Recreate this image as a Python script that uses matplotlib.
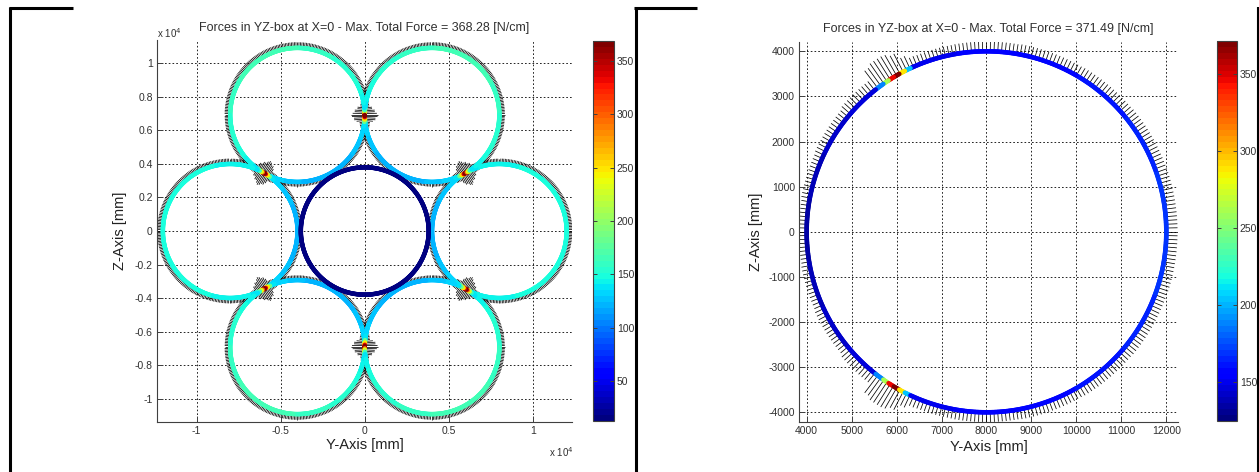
import numpy as np
import matplotlib
matplotlib.use("Agg")
import matplotlib.pyplot as plt
from matplotlib.collections import LineCollection
from matplotlib.colors import Normalize
from matplotlib.cm import ScalarMappable
from matplotlib.lines import Line2D
from matplotlib.ticker import FuncFormatter

plt.rcParams['font.family'] = ['Liberation Sans', 'DejaVu Sans']
plt.rcParams['axes.unicode_minus'] = False

# ---- left panel: seven-cylinder bundle ----
left_title = "Forces in YZ-box at X=0 - Max. Total Force = 368.28 [N/cm]"
outer_center_deg = [0, 60, 120, 180, 240, 300]
outer_kind = ['side', 'diag', 'diag', 'side', 'diag', 'diag']
outer_center_dist = 8000
outer_radius = 4000
inner_radius = 3800
# force vs |angle from outward direction| (deg)
half_deg = [0, 15, 30, 45, 60, 75, 90, 100, 110, 114, 116, 118, 119, 121, 122, 124, 126, 130, 140, 155, 170, 180]
outer_force_side = [150, 150, 149, 148, 147, 146, 144, 141, 136, 160, 230, 300, 368.28, 330, 250, 180, 140, 130, 126, 123, 121, 120]
outer_force_diag = [163, 163, 162, 160, 157, 153, 148, 143, 137, 160, 230, 300, 368.28, 330, 250, 180, 140, 130, 126, 123, 121, 120]
left_arrow_len = [340, 340, 335, 330, 325, 320, 315, 310, 300, 450, 600, 720, 810, 760, 640, 500, 330, 290, 280, 270, 265, 260]
inner_deg = [0, 90, 180, 270]
inner_force = [17, 17, 17, 17]
left_clim = (13, 368.28)
left_xticks = [-10000, -5000, 0, 5000, 10000]
left_yticks = [-10000, -8000, -6000, -4000, -2000, 0, 2000, 4000, 6000, 8000, 10000]
left_cticks = [50, 100, 150, 200, 250, 300, 350]

# ---- right panel: single cylinder ----
right_title = "Forces in YZ-box at X=0 - Max. Total Force = 371.49 [N/cm]"
ring_center = (8000, 0)
ring_radius = 4000
right_half_deg = [0, 20, 40, 60, 80, 100, 112, 115, 117, 119, 121, 123, 125, 128, 140, 155, 170, 180]
right_force = [168, 165, 160, 156, 152, 150, 150, 205, 290, 371.49, 345, 260, 190, 148, 142, 138, 136, 135]
right_arrow_len = [250, 245, 235, 225, 215, 210, 220, 300, 450, 520, 540, 540, 480, 250, 210, 190, 175, 166]
right_clim = (125, 371.49)
right_xticks = [4000, 5000, 6000, 7000, 8000, 9000, 10000, 11000, 12000]
right_yticks = [-4000, -3000, -2000, -1000, 0, 1000, 2000, 3000, 4000]
right_cticks = [150, 200, 250, 300, 350]

cmap = plt.get_cmap('jet', 64)
TXT = '#303030'


def step(knots, values, x):
    idx = np.clip(np.searchsorted(knots, x, side='right') - 1, 0, len(knots) - 1)
    return np.asarray(values, dtype=float)[idx]


def draw_ring(ax, cx, cy, r, force_of_deg, norm, arrow_of_deg, zo, lw=3.2, dstep=1.5):
    th = np.linspace(0, 360, 721)
    px = cx + r * np.cos(np.radians(th))
    py = cy + r * np.sin(np.radians(th))
    segs = np.stack([np.column_stack([px[:-1], py[:-1]]),
                     np.column_stack([px[1:], py[1:]])], axis=1)
    mid = th[:-1] + 0.25
    lc = LineCollection(segs, colors=cmap(norm(force_of_deg(mid))), linewidths=lw,
                        capstyle='round', zorder=zo + 1)
    ax.add_collection(lc)
    if arrow_of_deg is not None:
        ta = np.arange(0, 360, dstep)
        c, s = np.cos(np.radians(ta)), np.sin(np.radians(ta))
        bx, by = cx + r * c, cy + r * s
        L = arrow_of_deg(ta)
        hs = np.stack([np.column_stack([bx, by]),
                       np.column_stack([bx + L * c, by + L * s])], axis=1)
        ax.add_collection(LineCollection(hs, colors='k', linewidths=0.55, zorder=zo))


def style(ax, xt, yt, xlim, ylim):
    ax.set_xlim(*xlim)
    ax.set_ylim(*ylim)
    ax.set_xticks(xt)
    ax.set_yticks(yt)
    ax.grid(True, color='k', linestyle=(0, (2, 2.5)), linewidth=0.6)
    ax.set_axisbelow(True)
    for sp in ['top', 'right']:
        ax.spines[sp].set_visible(False)
    for sp in ['left', 'bottom']:
        ax.spines[sp].set_color('#404040')
        ax.spines[sp].set_linewidth(0.8)
    ax.tick_params(direction='in', length=4, width=0.7, labelsize=7.5,
                   colors='#404040', labelcolor=TXT, pad=3)


def colorbar(fig, rect, clim, ticks):
    cax = fig.add_axes(rect)
    sm = ScalarMappable(norm=Normalize(*clim), cmap=cmap)
    cb = fig.colorbar(sm, cax=cax)
    cb.set_ticks(ticks)
    cb.outline.set_linewidth(0.8)
    cb.outline.set_edgecolor('#404040')
    cax.tick_params(direction='in', length=3, width=0.7, labelsize=7.5,
                    left=True, right=True, colors='#404040', labelcolor=TXT, pad=2)


W, H = 1259, 472
fig = plt.figure(figsize=(W / 100, H / 100), dpi=100)


def rect(x0, y0, x1, y1):
    return [x0 / W, 1 - y1 / H, (x1 - x0) / W, (y1 - y0) / H]


# left
axL = fig.add_axes(rect(157, 40, 572, 422))
normL = Normalize(*left_clim)
for phi, kind in zip(outer_center_deg, outer_kind):
    prof = outer_force_side if kind == 'side' else outer_force_diag
    cx = outer_center_dist * np.cos(np.radians(phi))
    cy = outer_center_dist * np.sin(np.radians(phi))

    def rel_of(d, phi=phi):
        return np.abs((d - phi + 180) % 360 - 180)

    draw_ring(axL, cx, cy, outer_radius,
              lambda d, rel_of=rel_of, prof=prof: step(half_deg, prof, rel_of(d)), normL,
              lambda d, rel_of=rel_of: step(half_deg, left_arrow_len, rel_of(d)), 2,
              dstep=1.2)
draw_ring(axL, 0, 0, inner_radius, lambda d: step(inner_deg, inner_force, d % 360),
          normL, None, 4)
style(axL, left_xticks, left_yticks, (-12350, 12320), (-11400, 11400))
fmt = FuncFormatter(lambda v, p: f"{v / 1e4:g}")
axL.xaxis.set_major_formatter(fmt)
axL.yaxis.set_major_formatter(fmt)
axL.text(0.5, 1.031, left_title, transform=axL.transAxes, ha='center', va='center',
         fontsize=9, color=TXT)
axL.set_xlabel('Y-Axis [mm]', fontsize=10.5, color='#202020')
axL.set_ylabel('Z-Axis [mm]', fontsize=10.5, color='#202020')
axL.xaxis.set_label_coords(0.5, -0.042)
axL.yaxis.set_label_coords(-0.072, 0.5)
fig.text(157 / W, 1 - 33 / H, 'x 10$^4$', fontsize=7, color=TXT, va='center', ha='left')
fig.text(549 / W, 1 - 452 / H, 'x 10$^4$', fontsize=7, color=TXT, va='center', ha='left')
colorbar(fig, rect(593, 41, 614, 421), left_clim, left_cticks)

# right
axR = fig.add_axes(rect(799, 42, 1178, 422))
normR = Normalize(*right_clim)


def rel_r(d):
    return np.abs((d + 180) % 360 - 180)


draw_ring(axR, ring_center[0], ring_center[1], ring_radius,
          lambda d: step(right_half_deg, right_force, rel_r(d)), normR,
          lambda d: step(right_half_deg, right_arrow_len, rel_r(d)), 2, lw=3.3, dstep=1.2)
style(axR, right_xticks, right_yticks, (3830, 12260), (-4215, 4206))
axR.text(0.5, 1.033, right_title, transform=axR.transAxes, ha='center', va='center',
         fontsize=9, color=TXT)
axR.set_xlabel('Y-Axis [mm]', fontsize=10.5, color='#202020')
axR.set_ylabel('Z-Axis [mm]', fontsize=10.5, color='#202020')
axR.xaxis.set_label_coords(0.5, -0.047)
axR.yaxis.set_label_coords(-0.095, 0.5)
colorbar(fig, rect(1217, 41, 1237, 421), right_clim, right_cticks)

# black panel frame fragments from the screenshot
fx = lambda x: x / W
fy = lambda y: 1 - y / H
for (x0, y0, x1, y1, lw) in [(10.5, 7, 10.5, 472, 2.2), (9, 8, 73, 8, 2.2),
                             (635.5, 7, 635.5, 472, 2.2), (634, 8, 697, 8, 2.2),
                             (1257.5, 7, 1257.5, 472, 1.5)]:
    fig.add_artist(Line2D([fx(x0), fx(x1)], [fy(y0), fy(y1)], color='k', lw=lw,
                          transform=fig.transFigure, solid_capstyle='butt'))

fig.savefig('out.png', dpi=100)
